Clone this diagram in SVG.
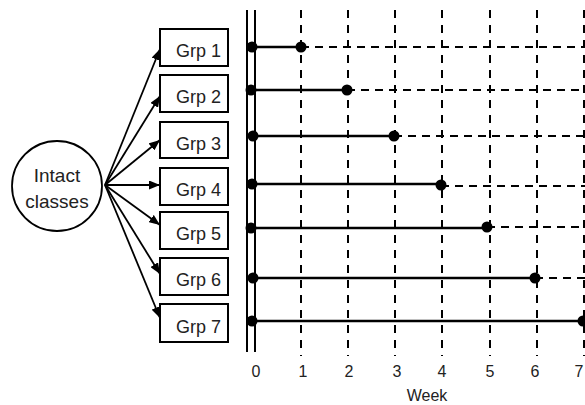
<svg xmlns="http://www.w3.org/2000/svg" width="585" height="405" viewBox="0 0 585 405">
<style>
.t{font-family:"Liberation Sans",Arial,sans-serif;font-size:18px;fill:#222}
.ax{font-family:"Liberation Sans",Arial,sans-serif;font-size:16px;fill:#222;text-anchor:middle}
.box{fill:#fff;stroke:#000;stroke-width:2}
.arr{stroke:#000;stroke-width:1.8;fill:none;marker-end:url(#ah)}
.solid{stroke:#000;stroke-width:2.6}
.dash{stroke:#000;stroke-width:2;stroke-dasharray:8 6}
.vd{stroke:#000;stroke-width:2;stroke-dasharray:8 7}
.dot{fill:#000}
</style>
<defs>
<marker id="ah" markerWidth="11" markerHeight="9" refX="11" refY="4.5" orient="auto" markerUnits="userSpaceOnUse">
<path d="M0,0 L11,4.5 L0,9 z" fill="#000"/>
</marker>
</defs>
<g id="intact">
<circle cx="57" cy="186" r="45" fill="#fff" stroke="#000" stroke-width="1.8"/>
<text class="t" x="57" y="182" text-anchor="middle" style="font-size:19px">Intact</text>
<text class="t" x="57" y="208" text-anchor="middle" style="font-size:19px">classes</text>
</g>
<g id="connectors">
<line class="arr" x1="105" y1="185" x2="160" y2="49"/>
<line class="arr" x1="105" y1="185" x2="160" y2="96"/>
<line class="arr" x1="105" y1="185" x2="160" y2="140"/>
<line class="arr" x1="105" y1="185" x2="160" y2="185"/>
<line class="arr" x1="105" y1="185" x2="160" y2="225"/>
<line class="arr" x1="105" y1="185" x2="160" y2="274"/>
<line class="arr" x1="105" y1="185" x2="160" y2="318"/>
</g>
<g id="grp1"><rect class="box" x="160" y="29" width="68" height="37"/><text class="t" x="176" y="57">Grp 1</text></g>
<g id="grp2"><rect class="box" x="160" y="75" width="68" height="37"/><text class="t" x="176" y="103">Grp 2</text></g>
<g id="grp3"><rect class="box" x="160" y="122" width="68" height="36"/><text class="t" x="176" y="150">Grp 3</text></g>
<g id="grp4"><rect class="box" x="160" y="168" width="68" height="37"/><text class="t" x="176" y="196">Grp 4</text></g>
<g id="grp5"><rect class="box" x="160" y="212" width="68" height="37"/><text class="t" x="176" y="240">Grp 5</text></g>
<g id="grp6"><rect class="box" x="160" y="258" width="68" height="37"/><text class="t" x="176" y="286">Grp 6</text></g>
<g id="grp7"><rect class="box" x="160" y="304" width="68" height="38"/><text class="t" x="176" y="333">Grp 7</text></g>
<g id="timeline">
<line x1="247" y1="10" x2="247" y2="352" stroke="#000" stroke-width="2"/>
<line x1="255" y1="10" x2="255" y2="352" stroke="#000" stroke-width="2"/>
<line class="vd" x1="301" y1="10" x2="301" y2="356"/>
<line class="vd" x1="348" y1="10" x2="348" y2="356"/>
<line class="vd" x1="395" y1="10" x2="395" y2="356"/>
<line class="vd" x1="442" y1="10" x2="442" y2="356"/>
<line class="vd" x1="490" y1="10" x2="490" y2="356"/>
<line class="vd" x1="537" y1="10" x2="537" y2="356"/>
<line class="vd" x1="584" y1="10" x2="584" y2="356"/>
<line class="solid" x1="252" y1="47" x2="301" y2="47"/><line class="dash" x1="301" y1="47" x2="585" y2="47"/>
<line class="solid" x1="251" y1="90" x2="347" y2="90"/><line class="dash" x1="347" y1="90" x2="585" y2="90"/>
<line class="solid" x1="253" y1="136" x2="394" y2="136"/><line class="dash" x1="394" y1="136" x2="585" y2="136"/>
<line class="solid" x1="252" y1="184" x2="441" y2="184"/><line class="dash" x1="441" y1="186" x2="585" y2="186"/>
<line class="solid" x1="251" y1="228" x2="487" y2="228"/><line class="dash" x1="487" y1="227" x2="585" y2="227"/>
<line class="solid" x1="253" y1="278" x2="535" y2="278"/><line class="dash" x1="535" y1="278" x2="585" y2="278"/>
<line class="solid" x1="252" y1="321" x2="583" y2="321"/>
<circle class="dot" cx="252" cy="47" r="5.5"/><circle class="dot" cx="301" cy="47" r="5.5"/>
<circle class="dot" cx="251" cy="90" r="5.5"/><circle class="dot" cx="347" cy="90" r="5.5"/>
<circle class="dot" cx="253" cy="136" r="5.5"/><circle class="dot" cx="394" cy="136" r="5.5"/>
<circle class="dot" cx="252" cy="184" r="5.5"/><circle class="dot" cx="441" cy="185" r="5.5"/>
<circle class="dot" cx="251" cy="228" r="5.5"/><circle class="dot" cx="487" cy="227" r="5.5"/>
<circle class="dot" cx="253" cy="278" r="5.5"/><circle class="dot" cx="535" cy="278" r="5.5"/>
<circle class="dot" cx="252" cy="321" r="5.5"/><circle class="dot" cx="583" cy="321" r="5.5"/>
<text class="ax" x="256" y="377">0</text>
<text class="ax" x="303" y="377">1</text>
<text class="ax" x="349" y="377">2</text>
<text class="ax" x="397" y="377">3</text>
<text class="ax" x="442" y="377">4</text>
<text class="ax" x="490" y="377">5</text>
<text class="ax" x="535" y="377">6</text>
<text class="ax" x="579" y="377">7</text>
<text class="ax" x="427" y="401">Week</text>
</g>
</svg>
